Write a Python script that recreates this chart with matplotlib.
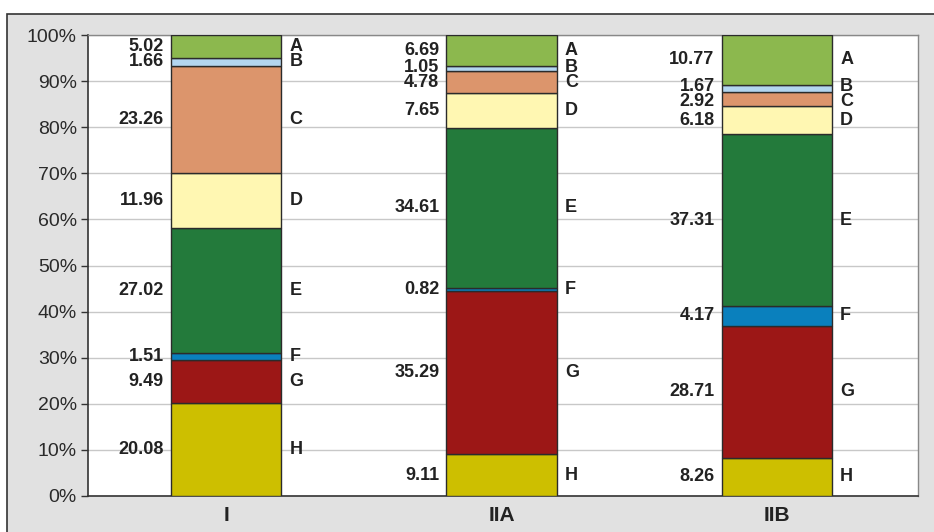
import matplotlib.pyplot as plt
from matplotlib.patches import Rectangle
import numpy as np

plt.rcParams['font.family'] = ['Liberation Sans', 'DejaVu Sans']

groups = ['I', 'IIA', 'IIB']
segments = ['H', 'G', 'F', 'E', 'D', 'C', 'B', 'A']
values = {
    'H': [20.08, 9.11, 8.26],
    'G': [9.49, 35.29, 28.71],
    'F': [1.51, 0.82, 4.17],
    'E': [27.02, 34.61, 37.31],
    'D': [11.96, 7.65, 6.18],
    'C': [23.26, 4.78, 2.92],
    'B': [1.66, 1.05, 1.67],
    'A': [5.02, 6.69, 10.77],
}
colors = {
    'A': '#8cb84e',
    'B': '#b3d6f0',
    'C': '#dc956c',
    'D': '#fff7b2',
    'E': '#237a3b',
    'F': '#0a80bd',
    'G': '#9c1716',
    'H': '#cdbf00',
}


def spread_labels(centers, min_gap, top=100.0):
    """Push label positions apart so neighbours keep at least min_gap."""
    pos = list(centers)
    for _ in range(200):
        moved = False
        for k in range(len(pos) - 1):
            gap = pos[k + 1] - pos[k]
            if gap < min_gap - 1e-6:
                shift = (min_gap - gap) / 2
                pos[k] -= shift
                pos[k + 1] += shift
                moved = True
        if pos[-1] > top - 1.5:
            pos[-1] = top - 1.5
        if not moved:
            break
    return pos


fig = plt.figure(figsize=(9.34, 5.32), dpi=100)
W, H = 934, 532
# gray panel behind the plot
fig.patches.append(Rectangle((7 / W, -0.1), 1.2, (532 - 14) / H + 0.1,
                             transform=fig.transFigure, facecolor='#e1e1e1',
                             edgecolor='#333333', linewidth=1.2, zorder=-10))

ax = fig.add_axes([88 / W, (H - 496) / H, (918 - 88) / W, (496 - 35) / H])
ax.set_facecolor('white')

x = np.arange(len(groups))
width = 0.4
bottom = np.zeros(len(groups))
centers = [[] for _ in groups]
for seg in segments:
    vals = np.array(values[seg])
    ax.bar(x, vals, width, bottom=bottom, color=colors[seg],
           edgecolor='#2b2b2b', linewidth=1.0, zorder=3)
    for i, v in enumerate(vals):
        centers[i].append(bottom[i] + v / 2)
    bottom += vals

for i in range(len(groups)):
    ys = spread_labels(centers[i], 3.3)
    for seg, yc in zip(segments, ys):
        v = values[seg][i]
        ax.text(x[i] - width / 2 - 0.026, yc, f'{v:.2f}', ha='right', va='center',
                fontsize=13, fontweight='bold', color='#222222', zorder=4)
        ax.text(x[i] + width / 2 + 0.03, yc, seg, ha='left', va='center',
                fontsize=13, fontweight='bold', color='#222222', zorder=4)

ax.set_xlim(-0.502, 2.513)
ax.set_ylim(0, 100)
ax.set_yticks(np.arange(0, 101, 10))
ax.set_yticklabels([f'{t}%' for t in range(0, 101, 10)], fontsize=14, color='#2a2a2a')
ax.set_xticks(x)
ax.set_xticklabels(groups, fontsize=15, fontweight='bold', color='#222222')
ax.tick_params(axis='x', length=0, pad=7)
ax.tick_params(axis='y', length=5, width=1, color='#333333', pad=3)
ax.yaxis.grid(True, color='#c8c8c8', linewidth=1, zorder=0)
ax.set_axisbelow(True)
for side in ['left', 'bottom']:
    ax.spines[side].set_color('#333333')
    ax.spines[side].set_linewidth(1.2)
for side in ['top', 'right']:
    ax.spines[side].set_color('#888888')
    ax.spines[side].set_linewidth(1.0)

fig.savefig('out.png', dpi=100)
